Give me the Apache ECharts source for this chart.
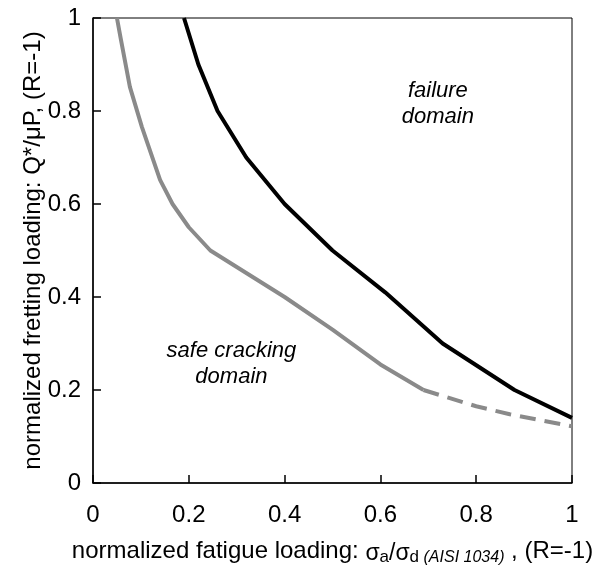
<!DOCTYPE html>
<html>
<head>
<meta charset="utf-8">
<script src="https://cdn.jsdelivr.net/npm/echarts@6/dist/echarts.min.js"></script>
<style>
  html, body { margin: 0; padding: 0; background: #fff; }
  #chart { width: 601px; height: 571px; }
</style>
</head>
<body>
<div id="chart"></div>
<script>
// failure limit (black)
const failureCurve = [
  [0.19, 1.0], [0.22, 0.9], [0.26, 0.8], [0.32, 0.7], [0.40, 0.6],
  [0.50, 0.5], [0.61, 0.41], [0.73, 0.30], [0.88, 0.20], [1.0, 0.14]
]
// crack arrest limit (grey, solid part)
const crackCurve = [
  [0.05, 1.0], [0.058, 0.955], [0.077, 0.852], [0.102, 0.766], [0.14, 0.652],
  [0.166, 0.6], [0.2, 0.55], [0.245, 0.5], [0.4, 0.4], [0.5, 0.33],
  [0.6, 0.255], [0.69, 0.2]
]
// grey, extrapolated (dashed)
const crackDashed = [
  [0.69, 0.2], [0.8, 0.165], [0.87, 0.148], [1.0, 0.122]
]
const xTicks = [0, 0.2, 0.4, 0.6, 0.8, 1]
const yTicks = [0, 0.2, 0.4, 0.6, 0.8, 1]
const domainLabels = [
  { name: 'failure\ndomain', value: [0.72, 0.815] },
  { name: 'safe cracking\ndomain', value: [0.289, 0.256] }
]

const font = "'Liberation Sans', Arial, sans-serif"
const chart = echarts.init(document.getElementById('chart'))

const option = {
  animation: false,
  grid: {
    left: 93, right: 29, top: 18, bottom: 88,
    show: true, borderColor: '#000', borderWidth: 1
  },
  xAxis: {
    type: 'value',
    min: xTicks[0], max: xTicks[xTicks.length - 1], interval: 0.2,
    axisLine: { lineStyle: { color: '#000', width: 1.5 } },
    axisTick: { inside: true, length: 8, lineStyle: { color: '#000', width: 1.5 } },
    axisLabel: { color: '#000', fontSize: 24, fontFamily: font, margin: 20 },
    splitLine: { show: false },
    name: 'normalized fatigue loading: {g|σ}{sub|a}{g|/σ}{sub|d}{it| (AISI 1034)} , (R=-1)',
    nameLocation: 'middle',
    nameGap: 54,
    nameMoveOverlap: false,
    nameTextStyle: {
      color: '#000', fontSize: 24, fontFamily: font,
      rich: {
        g: { fontSize: 23, fontFamily: font, color: '#000', padding: [4, 0, 0, 0] },
        sub: { fontSize: 17, fontFamily: font, color: '#000', padding: [12, 0, 0, 0] },
        it: { fontSize: 16, fontFamily: font, fontStyle: 'italic', color: '#000', padding: [12, 0, 0, 0] }
      }
    }
  },
  yAxis: {
    type: 'value',
    min: yTicks[0], max: yTicks[yTicks.length - 1], interval: 0.2,
    axisLine: { lineStyle: { color: '#000', width: 1.5 } },
    axisTick: { inside: true, length: 8, lineStyle: { color: '#000', width: 1.5 } },
    axisLabel: { color: '#000', fontSize: 24, fontFamily: font, margin: 12 },
    splitLine: { show: false },
    name: 'normalized fretting loading: Q*/μP, (R=-1)',
    nameLocation: 'middle',
    nameGap: 48,
    nameMoveOverlap: false,
    nameTextStyle: { color: '#000', fontSize: 24, fontFamily: font }
  },
  series: [
    {
      type: 'line',
      data: failureCurve,
      symbol: 'none',
      lineStyle: { color: '#000', width: 4 },
      z: 3
    },
    {
      type: 'line',
      data: crackCurve,
      symbol: 'none',
      lineStyle: { color: '#8a8a8a', width: 4 }
    },
    {
      type: 'line',
      data: crackDashed,
      symbol: 'none',
      lineStyle: { color: '#8a8a8a', width: 4, type: [16, 9] }
    },
    {
      type: 'scatter',
      data: domainLabels,
      symbolSize: 0,
      itemStyle: { opacity: 1 },
      label: {
        show: true,
        position: 'inside',
        formatter: p => p.name,
        color: '#000',
        textBorderWidth: 0,
        fontSize: 22,
        fontStyle: 'italic',
        fontFamily: font,
        lineHeight: 26,
        align: 'center'
      }
    }
  ]
}
chart.setOption(option)
</script>
</body>
</html>
